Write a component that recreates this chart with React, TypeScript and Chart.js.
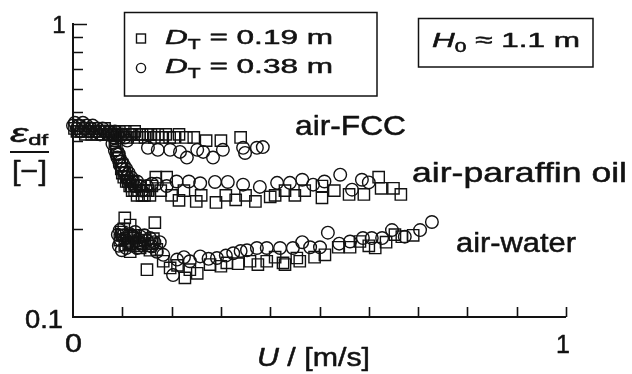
import React, { useEffect, useRef } from "react";
import { Chart, registerables } from "chart.js";

Chart.register(...registerables);

// Superficial gas velocity U [m/s] and dense-phase holdup eps_df [-]
// air-FCC
const fccSmallU = [0.003, 0.008, 0.012, 0.016, 0.02, 0.025, 0.03, 0.034, 0.038, 0.042, 0.046, 0.05, 0.055, 0.06, 0.064, 0.068, 0.072, 0.076, 0.08, 0.085, 0.09, 0.094, 0.098, 0.102, 0.106, 0.11, 0.115, 0.12, 0.125, 0.13, 0.135, 0.14, 0.146, 0.152, 0.158, 0.165, 0.172, 0.18, 0.188, 0.196, 0.205, 0.215, 0.23, 0.245, 0.27, 0.3, 0.34];
const fccSmallEps = [0.44, 0.43, 0.45, 0.43, 0.44, 0.42, 0.43, 0.44, 0.42, 0.43, 0.44, 0.42, 0.43, 0.42, 0.44, 0.43, 0.42, 0.43, 0.42, 0.43, 0.42, 0.43, 0.42, 0.42, 0.43, 0.41, 0.42, 0.42, 0.43, 0.41, 0.42, 0.42, 0.41, 0.42, 0.42, 0.41, 0.42, 0.41, 0.42, 0.41, 0.41, 0.42, 0.41, 0.41, 0.4, 0.4, 0.41];
const fccLargeU = [0.0, 0.004, 0.008, 0.012, 0.016, 0.02, 0.024, 0.028, 0.032, 0.036, 0.04, 0.045, 0.05, 0.055, 0.06, 0.065, 0.07, 0.075, 0.08, 0.085, 0.09, 0.095, 0.1, 0.105, 0.11, 0.152, 0.172, 0.197, 0.217, 0.231, 0.252, 0.264, 0.284, 0.304, 0.345, 0.349, 0.373, 0.385];
const fccLargeEps = [0.45, 0.46, 0.44, 0.45, 0.43, 0.46, 0.44, 0.45, 0.43, 0.44, 0.45, 0.43, 0.44, 0.42, 0.44, 0.43, 0.42, 0.43, 0.42, 0.43, 0.42, 0.41, 0.42, 0.41, 0.4, 0.378, 0.372, 0.372, 0.366, 0.35, 0.372, 0.366, 0.35, 0.372, 0.378, 0.363, 0.378, 0.38];

// air-paraffin oil
const parSmallU = [0.085, 0.088, 0.09, 0.093, 0.095, 0.098, 0.1, 0.1, 0.103, 0.105, 0.108, 0.11, 0.112, 0.115, 0.118, 0.12, 0.122, 0.125, 0.128, 0.13, 0.133, 0.136, 0.14, 0.143, 0.145, 0.148, 0.152, 0.156, 0.16, 0.168, 0.178, 0.19, 0.2, 0.215, 0.225, 0.25, 0.26, 0.29, 0.31, 0.33, 0.35, 0.37, 0.4, 0.41, 0.43, 0.45, 0.47, 0.505, 0.505, 0.53, 0.56, 0.59, 0.62, 0.625, 0.65, 0.665];
const parSmallEps = [0.4, 0.38, 0.36, 0.35, 0.34, 0.32, 0.33, 0.31, 0.3, 0.31, 0.29, 0.3, 0.29, 0.28, 0.28, 0.27, 0.29, 0.27, 0.28, 0.26, 0.27, 0.28, 0.26, 0.27, 0.26, 0.27, 0.27, 0.26, 0.28, 0.3, 0.27, 0.3, 0.26, 0.25, 0.27, 0.248, 0.26, 0.246, 0.26, 0.251, 0.26, 0.248, 0.257, 0.26, 0.27, 0.26, 0.27, 0.28, 0.255, 0.27, 0.262, 0.262, 0.3, 0.275, 0.275, 0.262];
const parLargeU = [0.08, 0.083, 0.085, 0.088, 0.09, 0.093, 0.095, 0.098, 0.1, 0.103, 0.105, 0.108, 0.11, 0.113, 0.115, 0.118, 0.12, 0.125, 0.13, 0.135, 0.14, 0.15, 0.16, 0.17, 0.19, 0.21, 0.235, 0.258, 0.288, 0.314, 0.345, 0.379, 0.414, 0.44, 0.465, 0.487, 0.51, 0.542, 0.566, 0.586, 0.6];
const parLargeEps = [0.39, 0.41, 0.37, 0.36, 0.35, 0.36, 0.33, 0.34, 0.32, 0.33, 0.31, 0.32, 0.3, 0.31, 0.29, 0.3, 0.29, 0.28, 0.29, 0.28, 0.27, 0.28, 0.285, 0.285, 0.28, 0.29, 0.29, 0.286, 0.289, 0.289, 0.283, 0.278, 0.287, 0.287, 0.294, 0.283, 0.29, 0.306, 0.272, 0.294, 0.288];

// air-water
const waterSmallU = [0.095, 0.098, 0.1, 0.103, 0.105, 0.105, 0.108, 0.11, 0.113, 0.116, 0.116, 0.12, 0.123, 0.126, 0.13, 0.133, 0.136, 0.14, 0.143, 0.146, 0.15, 0.153, 0.156, 0.16, 0.163, 0.166, 0.17, 0.183, 0.197, 0.212, 0.227, 0.237, 0.252, 0.278, 0.3, 0.312, 0.335, 0.359, 0.375, 0.393, 0.41, 0.426, 0.43, 0.454, 0.46, 0.49, 0.511, 0.538, 0.562, 0.582, 0.6, 0.613, 0.635, 0.653, 0.667, 0.69];
const waterSmallEps = [0.183, 0.195, 0.19, 0.2, 0.218, 0.176, 0.19, 0.186, 0.178, 0.206, 0.167, 0.18, 0.19, 0.186, 0.175, 0.182, 0.172, 0.19, 0.178, 0.183, 0.145, 0.175, 0.169, 0.178, 0.185, 0.21, 0.17, 0.155, 0.147, 0.15, 0.136, 0.145, 0.141, 0.151, 0.149, 0.153, 0.152, 0.155, 0.151, 0.155, 0.16, 0.153, 0.151, 0.159, 0.155, 0.16, 0.163, 0.173, 0.173, 0.181, 0.175, 0.172, 0.18, 0.191, 0.188, 0.19];
const waterLargeU = [0.091, 0.093, 0.095, 0.097, 0.099, 0.102, 0.105, 0.108, 0.112, 0.115, 0.118, 0.122, 0.126, 0.13, 0.134, 0.137, 0.14, 0.145, 0.15, 0.156, 0.16, 0.165, 0.17, 0.176, 0.183, 0.203, 0.211, 0.225, 0.237, 0.258, 0.275, 0.292, 0.31, 0.325, 0.34, 0.353, 0.373, 0.393, 0.42, 0.446, 0.465, 0.481, 0.501, 0.517, 0.54, 0.562, 0.588, 0.606, 0.627, 0.647, 0.673, 0.704, 0.728];
const waterLargeEps = [0.191, 0.175, 0.198, 0.183, 0.169, 0.19, 0.185, 0.172, 0.18, 0.192, 0.176, 0.186, 0.195, 0.172, 0.18, 0.188, 0.176, 0.19, 0.182, 0.186, 0.174, 0.18, 0.167, 0.18, 0.163, 0.139, 0.157, 0.16, 0.155, 0.161, 0.158, 0.159, 0.162, 0.165, 0.168, 0.169, 0.172, 0.172, 0.172, 0.172, 0.18, 0.173, 0.173, 0.194, 0.178, 0.181, 0.186, 0.186, 0.186, 0.198, 0.188, 0.198, 0.211];

const xTicks = [0.1, 0.2, 0.3, 0.4, 0.5, 0.6, 0.7, 0.8, 0.9, 1.0];
const yTicks = [0.2, 0.3, 0.4, 0.5, 0.6, 0.7, 0.8, 0.9, 1.0];

const INK = "#121212";
const FAMILY = "'Liberation Sans', Arial, Helvetica, sans-serif";

const toPoints = (xs: number[], ys: number[]) => xs.map((x, i) => ({ x, y: ys[i] }));

type Run = { text: string; size: number; italic?: boolean; dy?: number };

// Draws a sequence of text runs, optionally stretched horizontally to a given width.
function drawRuns(
  ctx: CanvasRenderingContext2D,
  runs: Run[],
  x: number,
  baseline: number,
  width?: number,
  align: "left" | "center" = "left"
) {
  const fontOf = (r: Run) => `${r.italic ? "italic " : ""}${r.size}px ${FAMILY}`;
  let w = 0;
  for (const r of runs) {
    ctx.font = fontOf(r);
    w += ctx.measureText(r.text).width;
  }
  const sx = width ? width / w : 1;
  const start = align === "center" ? x - (w * sx) / 2 : x;
  ctx.save();
  ctx.translate(start, baseline);
  ctx.scale(sx, 1);
  ctx.fillStyle = INK;
  ctx.strokeStyle = INK;
  ctx.lineWidth = 0.5;
  ctx.lineJoin = "round";
  ctx.textBaseline = "alphabetic";
  ctx.textAlign = "left";
  let cx = 0;
  for (const r of runs) {
    ctx.font = fontOf(r);
    ctx.fillText(r.text, cx, r.dy || 0);
    ctx.strokeText(r.text, cx, r.dy || 0);
    cx += ctx.measureText(r.text).width;
  }
  ctx.restore();
}

const framePlugin = {
  id: "figureFrame",
  afterDraw(chart: any) {
    const ctx: CanvasRenderingContext2D = chart.ctx;
    const xs = chart.scales.x;
    const ys = chart.scales.y;
    const x0 = xs.getPixelForValue(0);
    const x1 = xs.getPixelForValue(1);
    const yb = ys.getPixelForValue(0.1);
    const yt = ys.getPixelForValue(1);

    ctx.save();
    ctx.strokeStyle = INK;
    ctx.lineCap = "butt";

    // axes
    ctx.lineWidth = 2;
    ctx.beginPath();
    ctx.moveTo(x0, yt - 1);
    ctx.lineTo(x0, yb);
    ctx.lineTo(x1, yb);
    ctx.stroke();

    // inward ticks
    ctx.lineWidth = 1.6;
    ctx.beginPath();
    for (const v of xTicks) {
      const px = Math.round(xs.getPixelForValue(v)) + 0.5;
      ctx.moveTo(px, yb);
      ctx.lineTo(px, yb - 10);
    }
    for (const v of yTicks) {
      const py = Math.round(ys.getPixelForValue(v)) + 0.5;
      ctx.moveTo(x0, py);
      ctx.lineTo(x0 + (v === 1 ? 14 : 10), py);
    }
    ctx.stroke();

    // tick labels
    drawRuns(ctx, [{ text: "1", size: 24 }], 59, yt + 9, undefined, "center");
    drawRuns(ctx, [{ text: "0.1", size: 25 }], 44, yb + 11, 38, "center");
    drawRuns(ctx, [{ text: "0", size: 25 }], x0 + 0.5, 352, 17, "center");
    drawRuns(ctx, [{ text: "1", size: 25 }], x1 - 3, 353, undefined, "center");

    // axis titles
    drawRuns(
      ctx,
      [
        { text: "U", size: 25, italic: true },
        { text: " / [m/s]", size: 25 },
      ],
      257,
      366,
      113
    );
    drawRuns(
      ctx,
      [
        { text: "ε", size: 26, italic: true },
        { text: "df", size: 15, dy: 3 },
      ],
      10,
      142,
      38
    );
    ctx.lineWidth = 2;
    ctx.beginPath();
    ctx.moveTo(10, 152);
    ctx.lineTo(49, 152);
    ctx.stroke();
    drawRuns(ctx, [{ text: "[−]", size: 27 }], 12, 180, 35);

    // legend box
    ctx.lineWidth = 1.5;
    ctx.strokeRect(124.5, 12.5, 252.5, 83.5);
    ctx.lineWidth = 1.4;
    ctx.strokeRect(136.5, 34, 9, 9);
    ctx.beginPath();
    ctx.arc(141, 68, 4.6, 0, Math.PI * 2);
    ctx.stroke();
    drawRuns(
      ctx,
      [
        { text: "D", size: 21, italic: true },
        { text: "T", size: 14, dy: 5 },
        { text: " = 0.19 m", size: 21 },
      ],
      165,
      44,
      168
    );
    drawRuns(
      ctx,
      [
        { text: "D", size: 21, italic: true },
        { text: "T", size: 14, dy: 5 },
        { text: " = 0.38 m", size: 21 },
      ],
      165,
      73,
      168
    );

    // initial bed height box
    ctx.lineWidth = 1.5;
    ctx.strokeRect(418.5, 18.5, 174.5, 48.5);
    drawRuns(
      ctx,
      [
        { text: "H", size: 21, italic: true },
        { text: "0", size: 14, dy: 5 },
        { text: " ≈ 1.1 m", size: 21 },
      ],
      432,
      47,
      148
    );

    // system labels
    drawRuns(ctx, [{ text: "air-FCC", size: 28 }], 295, 135, 111);
    drawRuns(ctx, [{ text: "air-paraffin oil", size: 28 }], 412, 182, 215);
    drawRuns(ctx, [{ text: "air-water", size: 27 }], 456, 252, 120);

    ctx.restore();
  },
};

export default function App() {
  const canvasRef = useRef<HTMLCanvasElement | null>(null);

  useEffect(() => {
    document.body.style.margin = "0";
    const canvas = canvasRef.current;
    if (!canvas) return;

    const square = {
      pointStyle: "rect" as const,
      pointRadius: 8,
      pointBorderWidth: 1.4,
      pointBorderColor: INK,
      pointBackgroundColor: "rgba(0,0,0,0)",
      showLine: false,
      clip: false as const,
    };
    const circle = {
      pointStyle: "circle" as const,
      pointRadius: 6.3,
      pointBorderWidth: 1.4,
      pointBorderColor: INK,
      pointBackgroundColor: "rgba(0,0,0,0)",
      showLine: false,
      clip: false as const,
    };

    const chart = new Chart(canvas, {
      type: "scatter",
      data: {
        datasets: [
          { label: "air-FCC, DT = 0.19 m", data: toPoints(fccSmallU, fccSmallEps), ...square },
          { label: "air-FCC, DT = 0.38 m", data: toPoints(fccLargeU, fccLargeEps), ...circle },
          { label: "air-paraffin oil, DT = 0.19 m", data: toPoints(parSmallU, parSmallEps), ...square },
          { label: "air-paraffin oil, DT = 0.38 m", data: toPoints(parLargeU, parLargeEps), ...circle },
          { label: "air-water, DT = 0.19 m", data: toPoints(waterSmallU, waterSmallEps), ...square },
          { label: "air-water, DT = 0.38 m", data: toPoints(waterLargeU, waterLargeEps), ...circle },
        ],
      },
      options: {
        responsive: false,
        animation: false,
        devicePixelRatio: 1,
        layout: { padding: { left: 73, right: 66, top: 24, bottom: 57 } },
        plugins: { legend: { display: false }, tooltip: { enabled: false } },
        scales: {
          x: { type: "linear", min: 0, max: 1, display: false },
          y: { type: "logarithmic", min: 0.1, max: 1, display: false },
        },
      },
      plugins: [framePlugin],
    });

    return () => chart.destroy();
  }, []);

  return (
    <div style={{ position: "absolute", left: 0, top: 0, width: 632, height: 374, background: "#fff" }}>
      <canvas ref={canvasRef} width={632} height={374} />
    </div>
  );
}
